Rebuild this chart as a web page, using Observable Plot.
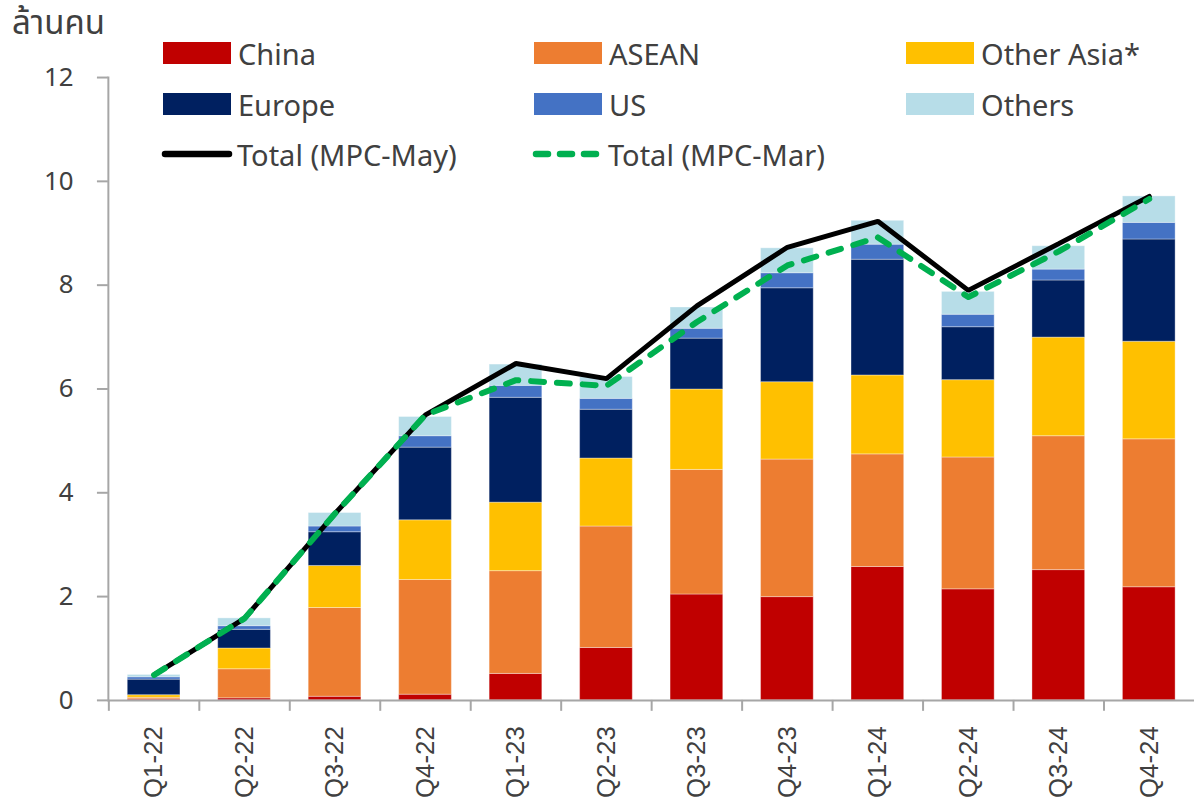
<!DOCTYPE html>
<html>
<head>
<meta charset="utf-8">
<script src="https://cdn.jsdelivr.net/npm/d3@7"></script>
<script src="https://cdn.jsdelivr.net/npm/@observablehq/plot@0.6"></script>
<style>
  html, body { margin: 0; padding: 0; background: #fff; overflow: hidden; width: 1194px; height: 812px; }
  #wrap { position: relative; width: 1194px; height: 812px; overflow: hidden; }
  #chart { position: absolute; left: 0; top: 0; }
  .unit { position: absolute; left: 12px; top: 4px; line-height: 40px; font-family: "Noto Sans Thai", "Noto Sans", "DejaVu Sans", sans-serif; font-size: 33px; color: #404040; white-space: nowrap; }
  .lg { position: absolute; font-family: "Noto Sans", "Open Sans", sans-serif; font-size: 29px; color: #404040; white-space: nowrap; display: flex; align-items: center; height: 30px; }
  .sw { width: 68px; height: 22px; margin-right: 7px; flex: none; }
  .ln { width: 72px; height: 10px; margin-right: 4px; flex: none; margin-left: -2px; }
</style>
</head>
<body>
<div id="wrap">
  <div id="chart"></div>
  <div id="legend"></div>
</div>
<script>
// ---- data ----
const quarters = ["Q1-22","Q2-22","Q3-22","Q4-22","Q1-23","Q2-23","Q3-23","Q4-23","Q1-24","Q2-24","Q3-24","Q4-24"];
const seriesNames = ["China","ASEAN","Other Asia*","Europe","US","Others"];
const seriesColors = ["#C00000","#ED7D31","#FFC000","#002060","#4472C4","#B7DDE8"];
const china     = [0.02, 0.04, 0.07, 0.11, 0.51, 1.01, 2.04, 1.99, 2.57, 2.14, 2.51, 2.18];
const asean     = [0.03, 0.56, 1.71, 2.21, 1.98, 2.34, 2.40, 2.65, 2.17, 2.54, 2.58, 2.85];
const otherAsia = [0.05, 0.40, 0.81, 1.15, 1.32, 1.31, 1.55, 1.49, 1.52, 1.49, 1.90, 1.88];
const europe    = [0.30, 0.36, 0.65, 1.40, 2.02, 0.94, 0.98, 1.81, 2.23, 1.02, 1.10, 1.97];
const us        = [0.045, 0.07, 0.11, 0.22, 0.23, 0.21, 0.19, 0.29, 0.29, 0.24, 0.21, 0.32];
const others    = [0.045, 0.15, 0.26, 0.37, 0.41, 0.42, 0.41, 0.48, 0.46, 0.44, 0.45, 0.51];
const totalMay  = [0.49, 1.58, 3.60, 5.50, 6.49, 6.20, 7.60, 8.73, 9.23, 7.90, 8.80, 9.71];
const totalMar  = [0.49, 1.58, 3.60, 5.50, 6.17, 6.06, 7.29, 8.38, 8.92, 7.77, 8.65, 9.66];
const lineNames = ["Total (MPC-May)", "Total (MPC-Mar)"];
const yTicks = [0, 2, 4, 6, 8, 10, 12];
const unitLabel = "ล้านคน";

// ---- build tidy table ----
const seriesValues = [china, asean, otherAsia, europe, us, others];
const tidy = [];
seriesNames.forEach((s, si) => quarters.forEach((q, qi) => tidy.push({quarter: q, series: s, value: seriesValues[si][qi]})));
const linesMay = quarters.map((q, i) => ({quarter: q, value: totalMay[i]}));
const linesMar = quarters.map((q, i) => ({quarter: q, value: totalMar[i]}));

const W = 1201, H = 812, ML = 108.5, MR = 0, MT = 77.5, MB = 108;
const step = (W - ML - MR) / quarters.length;
const axisColor = "#A6A6A6";
const textColor = "#404040";

const plot = Plot.plot({
  width: W, height: H,
  marginLeft: ML, marginRight: MR, marginTop: MT, marginBottom: MB,
  style: {fontFamily: "'Noto Sans', 'Open Sans', sans-serif", color: textColor, background: "white"},
  x: {domain: quarters, paddingInner: 0.42, paddingOuter: 0.21, axis: null, label: null},
  y: {domain: [0, 12], axis: null, label: null},
  color: {domain: seriesNames, range: seriesColors},
  marks: [
    Plot.barY(tidy, {x: "quarter", y: "value", fill: "series", order: seriesNames, stroke: "white", strokeOpacity: 0.35, strokeWidth: 1}),
    Plot.ruleY([0], {stroke: axisColor, strokeWidth: 2}),
    Plot.frame({anchor: "left", stroke: axisColor, strokeWidth: 2}),
    Plot.axisY({ticks: yTicks, label: null, tickSize: 11, tickPadding: 24, stroke: axisColor, strokeWidth: 2, fill: textColor, fontSize: 26, fontFamily: "'Noto Sans', sans-serif"}),
    Plot.axisX({label: null, tickSize: 11, tickFormat: () => "", dx: -step / 2, stroke: axisColor, strokeWidth: 2}),
    Plot.axisX({label: null, tickSize: 0, tickPadding: 26, tickRotate: -90, fill: textColor, fontSize: 26, fontFamily: "'Liberation Sans', Arial, sans-serif"}),
    Plot.line(linesMay, {x: "quarter", y: "value", stroke: "#000000", strokeWidth: 5, strokeLinejoin: "miter"}),
    Plot.line(linesMar, {x: "quarter", y: "value", stroke: "#00B050", strokeWidth: 6, strokeDasharray: "13,13", strokeLinecap: "round", strokeLinejoin: "round"})
  ]
});
document.getElementById("chart").appendChild(plot);

// ---- legend (HTML overlay) ----
const legend = document.getElementById("legend");
const unit = document.createElement("div");
unit.className = "unit";
unit.textContent = unitLabel;
legend.appendChild(unit);

const colX = [163, 534, 906];
const rowY = [38, 89, 139];
seriesNames.forEach((s, i) => {
  const d = document.createElement("div");
  d.className = "lg";
  d.style.left = colX[i % 3] + "px";
  d.style.top = rowY[Math.floor(i / 3)] + "px";
  d.innerHTML = `<div class="sw" style="background:${seriesColors[i]}"></div><span>${s}</span>`;
  legend.appendChild(d);
});
const lineStyles = [
  `<line x1="4" y1="5" x2="68" y2="5" stroke="#000" stroke-width="6.5" stroke-linecap="round"/>`,
  `<line x1="4" y1="5" x2="68" y2="5" stroke="#00B050" stroke-width="6.5" stroke-linecap="round" stroke-dasharray="12,12"/>`
];
lineNames.forEach((s, i) => {
  const d = document.createElement("div");
  d.className = "lg";
  d.style.left = colX[i] + "px";
  d.style.top = rowY[2] + "px";
  d.innerHTML = `<svg class="ln" viewBox="0 0 72 10">${lineStyles[i]}</svg><span>${s}</span>`;
  legend.appendChild(d);
});
</script>
</body>
</html>
